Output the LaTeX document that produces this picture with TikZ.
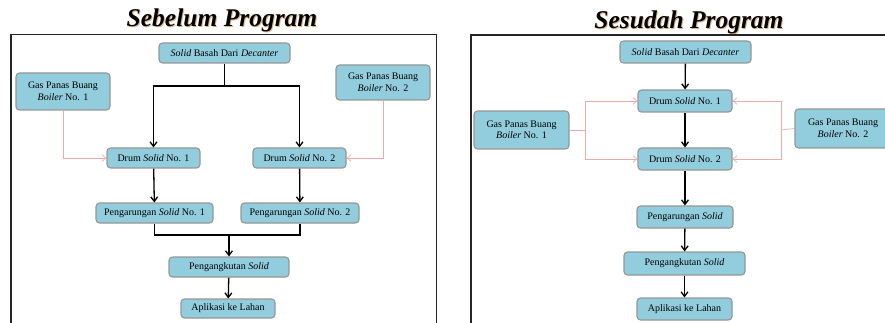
\documentclass[tikz,border=0pt]{standalone}
\usepackage{fontspec}
\setmainfont{Liberation Serif}
\usetikzlibrary{positioning,arrows.meta,calc}
\definecolor{boxblue}{RGB}{146,205,221}
\definecolor{boxedge}{RGB}{150,150,150}
\definecolor{heatpink}{RGB}{238,170,170}
\definecolor{glow}{RGB}{200,130,40}

\begin{document}
\begin{tikzpicture}[x=1pt,y=-1pt,
 b/.style={rounded corners=3.5pt,draw=boxedge,fill=boxblue,line width=1.1pt,align=center,inner sep=1pt,font=\fontsize{10}{11.5}\selectfont,minimum height=20pt},
 a/.style={-{Straight Barb[length=1.6mm,width=2.4mm]},line width=1.3pt,draw=black},
 g/.style={-{Straight Barb[length=1.4mm,width=2.4mm]},line width=.7pt,draw=heatpink},
 fr/.style={line width=1.6pt,draw=black!85},
 ttl/.style={font=\fontsize{25.5}{27}\selectfont\bfseries\itshape,inner sep=0pt}]
\useasboundingbox (0,0) rectangle (885,323);
\clip (0,0) rectangle (885,323);
% titles and frames
\node[ttl,text=glow!60] (tLs) at (223,21) {Sebelum Program};
\node[ttl] (tL) at (222,20) {Sebelum Program};
\node[ttl,text=glow!60] (tRs) at (690,23) {Sesudah Program};
\node[ttl] (tR) at (689,22) {Sesudah Program};
\draw[fr] (11,340) -- (11,34.5) -- (436.5,34.5) -- (436.5,340);
\draw[fr] (471,340) -- (471,35) -- (900,35);
% sebelum
\node[b,minimum width=131pt] (topL) at (224.5,53) {\textit{Solid} Basah Dari \textit{Decanter}};
\node[b,minimum width=94pt,minimum height=37pt] (gasL1) at (63,91.5) {Gas Panas Buang\\\textit{Boiler} No. 1};
\node[b,minimum width=94pt,minimum height=35pt] (gasL2) at (383,82.5) {Gas Panas Buang\\\textit{Boiler} No. 2};
\node[b,minimum width=93pt] (drumL1) at (153.5,158) {Drum \textit{Solid} No. 1};
\node[b,minimum width=93pt] (drumL2) at (299.5,158) {Drum \textit{Solid} No. 2};
\node[b,minimum width=117pt] (sackL1) at (154.5,213) {Pengarungan \textit{Solid} No. 1};
\node[b,minimum width=118pt] (sackL2) at (300,213) {Pengarungan \textit{Solid} No. 2};
\node[b,minimum width=120pt] (haulL) at (229,267) {Pengangkutan \textit{Solid}};
\node[b,minimum width=94pt,minimum height=19pt] (appL) at (228,308.5) {Aplikasi ke Lahan};
\coordinate (jL) at (224.5,86);
\coordinate (mL) at (229,235);
\draw[a,-] (topL) -- (jL);
\draw[a] (jL) -| (drumL1);\draw[a] (jL) -| (drumL2);
\draw[g] (gasL1.south) |- (drumL1.west);\draw[g] (gasL2.south) |- (drumL2.east);
\draw[a] (drumL1) -- (sackL1);\draw[a] (drumL2) -- (sackL2);
\draw[a,-] (sackL1.south) |- (mL);\draw[a,-] (sackL2.south) |- (mL);
\draw[a] (mL) -- (haulL);\draw[a] (haulL) -- (appL);
% sesudah
\node[b,minimum width=131pt,minimum height=22pt] (topR) at (685.5,52) {\textit{Solid} Basah Dari \textit{Decanter}};
\node[b,minimum width=94pt,minimum height=22pt] (drumR1) at (685,101) {Drum \textit{Solid} No. 1};
\node[b,minimum width=95pt,minimum height=38pt] (gasR1) at (521.5,130) {Gas Panas Buang\\\textit{Boiler} No. 1};
\node[b,minimum width=96pt,minimum height=39pt] (gasR2) at (843,128.5) {Gas Panas Buang\\\textit{Boiler} No. 2};
\node[b,minimum width=94pt,minimum height=22pt] (drumR2) at (685,159) {Drum \textit{Solid} No. 2};
\node[b,minimum width=96pt,minimum height=22pt] (sackR) at (685,217) {Pengarungan \textit{Solid}};
\node[b,minimum width=121pt,minimum height=23pt] (haulR) at (684.5,263.5) {Pengangkutan \textit{Solid}};
\node[b,minimum width=95pt,minimum height=22pt] (appR) at (684.5,309) {Aplikasi ke Lahan};
\coordinate (gR1) at (585,130);
\coordinate (gR2) at (781,130);
\draw[a] (topR) -- (drumR1);\draw[a] (drumR1) -- (drumR2);
\draw[a] (drumR2) -- (sackR);\draw[a] (sackR) -- (haulR);\draw[a] (haulR) -- (appR);
\draw[g,-] (gasR1.east) -- (gR1);\draw[g] (gR1) |- (drumR1.west);\draw[g] (gR1) |- (drumR2.west);
\draw[g,-] (gasR2.west) -- (gR2);\draw[g] (gR2) |- (drumR1.east);\draw[g] (gR2) |- (drumR2.east);
\end{tikzpicture}
\end{document}
